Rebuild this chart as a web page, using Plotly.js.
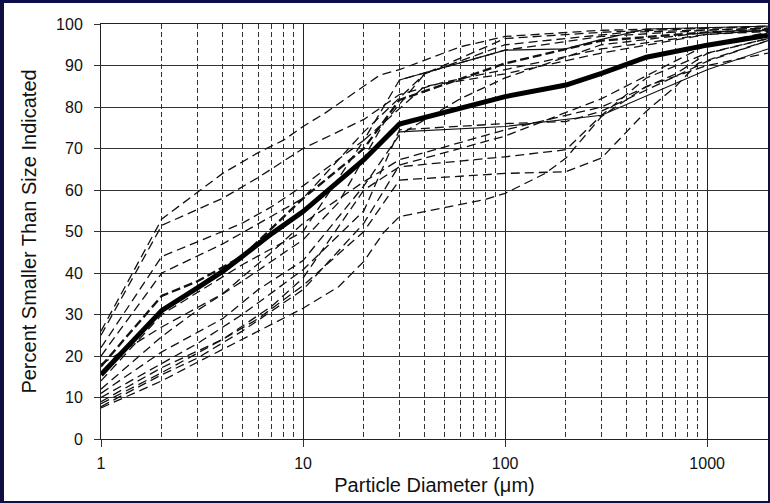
<!DOCTYPE html>
<html>
<head>
<meta charset="utf-8">
<script src="https://cdn.plot.ly/plotly-3.0.1.min.js"></script>
<style>
  html, body { margin: 0; padding: 0; background: #fff; }
  #wrap { position: relative; width: 770px; height: 503px; }
  #chart { width: 770px; height: 503px; }
  #frame { position: absolute; left: 0; top: 0; width: 770px; height: 503px; box-sizing: border-box;
           border-top: 3px solid #0b0b4e; border-left: 4px solid #101040; border-right: 2px solid #101040; border-bottom: 2px solid #101040;
           pointer-events: none; }
</style>
</head>
<body>
<div id="wrap"><div id="chart"></div><div id="frame"></div></div>
<script>
// ---- data (particle diameter in µm, percent smaller than size) ----
const avgX = [1, 2, 3, 4, 5, 7, 10, 15, 20, 30, 60, 100, 200, 300, 500, 1000, 2000];
const avgY = [15.5, 31, 36.4, 40.4, 44, 49.5, 54.8, 62, 67.3, 75.9, 79.8, 82.5, 85.3, 88.1, 92, 94.9, 97.3];

const s1X = [1, 2, 4, 6, 8, 10, 13, 24, 30, 60, 100, 300, 1000, 2000];
const s1Y = [26, 53, 64, 69, 72, 75.3, 78.7, 87.7, 89, 94.5, 97, 98.5, 99, 99.3];
const s2X = [1, 2, 4, 6, 10, 20, 30, 50, 100, 300, 1000, 2000];
const s2Y = [25, 51.5, 58, 63, 70, 77, 83, 86, 89, 94, 97.5, 98.2];
const s3X = [1, 2, 3, 5, 7, 10, 20, 30, 100, 300, 1000, 2000];
const s3Y = [22, 44, 47.5, 52, 56, 61, 72, 86.5, 93.7, 97, 98.5, 99];
const s4X = [1, 2, 4, 10, 20, 40, 100, 400, 2000];
const s4Y = [20, 40, 47, 58, 74, 88, 95, 98, 99];
const s5X = [1, 2, 3, 5, 10, 20, 30, 100, 300, 1000, 2000];
const s5Y = [17.5, 34.5, 38, 44, 58, 70, 81.7, 90.5, 96, 98, 98.5];
const s6X = [1, 2, 4, 7, 10, 20, 30, 100, 300, 700, 1000, 2000];
const s6Y = [18, 27, 35, 45, 52, 62, 67.3, 74.5, 80, 88, 92.9, 96.5];
const s7X = [1, 2, 3, 5, 10, 15, 25, 40, 100, 300, 1000, 2000];
const s7Y = [12, 24.7, 31, 38, 48, 57, 76, 88, 96.5, 98, 99, 99.5];
const s8X = [1, 2, 4, 6, 10, 20, 30, 60, 100, 300, 1000, 2000];
const s8Y = [11, 21, 29, 36, 43, 61, 73.3, 82, 87, 95, 98, 98.8];
const s9X = [1, 2, 3, 5, 10, 20, 30, 100, 200, 300, 1000, 2000];
const s9Y = [10, 18.3, 23, 30, 40.8, 55, 74.5, 76, 76.5, 79, 91, 96];
const s10X = [1, 2, 4, 7, 10, 20, 30, 100, 200, 300, 500, 1000, 2000];
const s10Y = [9, 17.2, 24, 32, 38.8, 60, 65.6, 68, 69.7, 78, 87, 93, 96.5];
const s11X = [1, 2, 4, 6, 10, 20, 30, 100, 200, 300, 500, 700, 900, 2000];
const s11Y = [8.5, 16, 24, 29, 37, 50, 62.4, 64, 64.4, 67.7, 79, 85, 90.5, 96];
const s12X = [1, 2, 3, 5, 10, 15, 20, 25, 30, 78, 100, 158, 200, 300, 500, 1000, 2000];
const s12Y = [7.5, 14, 18.5, 24, 31.5, 36.7, 42.8, 49.7, 53.6, 57.6, 59.2, 64, 67.7, 77.7, 85, 90, 93];
const s13X = [1, 2, 3, 5, 10, 20, 30, 100, 300, 1000, 2000];
const s13Y = [7.8, 15.5, 19.5, 26, 36, 52, 66, 73, 82, 95, 98];
const s14X = [1, 2, 5, 10, 20, 40, 100, 300, 1000, 2000];
const s14Y = [14, 30, 42, 50, 72, 85, 88, 93, 97.5, 98.5];
const t1X = [30, 100, 300, 1000, 2000];
const t1Y = [74, 75.3, 78, 89, 94];
const t2X = [30, 100, 200, 300, 500, 2000];
const t2Y = [86.5, 93.7, 94, 96.3, 98.8, 99.5];

const dashedSets = [
  [s1X, s1Y], [s2X, s2Y], [s3X, s3Y], [s4X, s4Y], [s6X, s6Y], [s7X, s7Y], [s8X, s8Y],
  [s9X, s9Y], [s10X, s10Y], [s11X, s11Y], [s12X, s12Y], [s13X, s13Y], [s14X, s14Y]
];

const traces = [];
dashedSets.forEach(function (d) {
  traces.push({ x: d[0], y: d[1], type: 'scatter', mode: 'lines', hoverinfo: 'skip',
    line: { color: '#111', width: 1.3, dash: '9px,5px' } });
});
traces.push({ x: s5X, y: s5Y, type: 'scatter', mode: 'lines', hoverinfo: 'skip',
  line: { color: '#111', width: 2.3, dash: '9px,4px' } });
traces.push({ x: t1X, y: t1Y, type: 'scatter', mode: 'lines', hoverinfo: 'skip',
  line: { color: '#111', width: 1.1 } });
traces.push({ x: t2X, y: t2Y, type: 'scatter', mode: 'lines', hoverinfo: 'skip',
  line: { color: '#111', width: 1.1 } });
traces.push({ x: avgX, y: avgY, type: 'scatter', mode: 'lines', hoverinfo: 'skip',
  line: { color: '#000', width: 5 } });

const xTickVals = [1, 10, 100, 1000];
const xTickText = ['1', '10', '100', '1000'];

const layout = {
  width: 770, height: 503,
  margin: { l: 101, r: 2, t: 24, b: 64, pad: 0 },
  paper_bgcolor: '#fff', plot_bgcolor: '#fff',
  showlegend: false,
  font: { family: 'Liberation Sans, Arial, sans-serif', color: '#111' },
  xaxis: {
    type: 'log', range: [0, Math.log10(2000)],
    tickmode: 'array', tickvals: xTickVals, ticktext: xTickText,
    showgrid: true, gridcolor: '#222', gridwidth: 1,
    ticks: 'outside', ticklen: 7, tickcolor: '#333', tickwidth: 1,
    ticklabelstandoff: 3,
    tickfont: { size: 16, color: '#111' },
    minor: { dtick: 'D1', showgrid: true, gridcolor: '#333', gridwidth: 1, griddash: '5px,3px', ticks: '' },
    showline: true, linecolor: '#222', linewidth: 1, mirror: true,
    zeroline: false,
    title: { text: 'Particle Diameter (\u03bcm)', font: { size: 20, color: '#111' }, standoff: 6 }
  },
  yaxis: {
    range: [0, 100], dtick: 10, tick0: 0,
    showgrid: true, gridcolor: '#333', gridwidth: 1,
    ticks: 'outside', ticklen: 6, tickcolor: '#333', tickwidth: 1,
    ticklabelstandoff: 8,
    tickfont: { size: 16, color: '#111' },
    showline: true, linecolor: '#222', linewidth: 1, mirror: true,
    zeroline: false,
    title: { text: 'Percent Smaller Than Size Indicated', font: { size: 20, color: '#111' }, standoff: 14 }
  }
};

Plotly.newPlot('chart', traces, layout, { displayModeBar: false, staticPlot: true });
</script>
</body>
</html>
